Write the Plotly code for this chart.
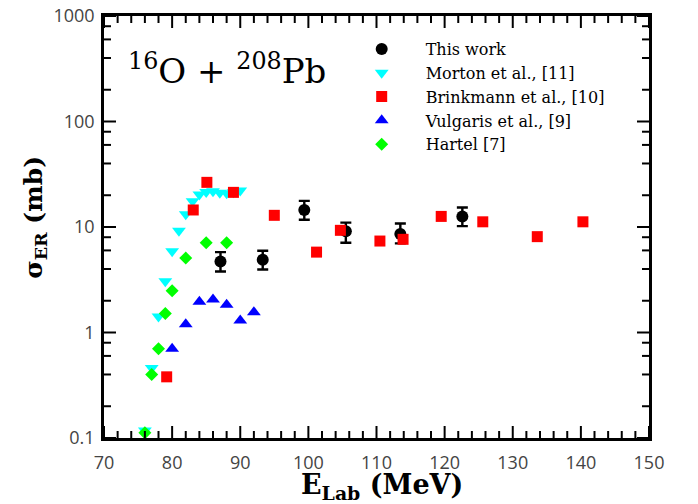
import plotly.graph_objects as go

# ---- data ----
this_x = [87.1, 93.3, 99.4, 105.5, 113.5, 122.6]
this_y = [4.7, 4.9, 14.5, 9.1, 8.6, 12.6]
this_err_plus = [1.08, 1.05, 3.2, 1.9, 2.2, 2.7]
this_err_minus = [0.91, 0.94, 2.8, 2.0, 1.6, 2.4]

morton_x = [76, 77, 78, 79, 80, 81, 82, 83, 84, 85, 86, 87, 88, 89, 90]
morton_y = [0.118, 0.46, 1.42, 3.06, 5.9, 9.2, 13.2, 17.5, 20.3, 21.5, 21.8, 21.1, 20.9, 21.3, 22.2]

brink_x = [79.2, 83.1, 85.1, 89.0, 95.0, 101.2, 104.7, 110.5, 113.9, 119.5, 125.6, 133.6, 140.3]
brink_y = [0.38, 14.5, 26.5, 21.3, 12.9, 5.78, 9.3, 7.36, 7.64, 12.6, 11.2, 8.1, 11.2]

vulg_x = [80, 82, 84, 86, 88, 90, 92]
vulg_y = [0.70, 1.20, 1.96, 2.05, 1.83, 1.30, 1.56]

hartel_x = [76, 77, 78, 79, 80, 82, 85, 88]
hartel_y = [0.112, 0.40, 0.70, 1.51, 2.49, 5.07, 7.1, 7.1]

x_range = [70, 150]
x_major = [70, 80, 90, 100, 110, 120, 130, 140, 150]
x_minor = [v for v in range(72, 150, 2) if v % 10 != 0]
y_major = [0.1, 1, 10, 100, 1000]
y_major_text = ["0.1", "1", "10", "100", "1000"]
y_minor = [m * d for d in [0.1, 1, 10, 100] for m in [2, 4, 6, 8]]

fig = go.Figure()

fig.add_trace(go.Scatter(
    x=this_x, y=this_y, mode="markers", name="This work",
    marker=dict(symbol="circle", size=12, color="black"),
    error_y=dict(type="data", array=this_err_plus, arrayminus=this_err_minus,
                 color="black", thickness=2.4, width=5.5),
))
fig.add_trace(go.Scatter(
    x=morton_x, y=morton_y, mode="markers", name="Morton et al., [11]",
    marker=dict(symbol="triangle-down", size=12, color="#00FFFF"),
))
fig.add_trace(go.Scatter(
    x=brink_x, y=brink_y, mode="markers", name="Brinkmann et al., [10]",
    marker=dict(symbol="square", size=11, color="#FF0000"),
))
fig.add_trace(go.Scatter(
    x=vulg_x, y=vulg_y, mode="markers", name="Vulgaris et al., [9]",
    marker=dict(symbol="triangle-up", size=12, color="#0000FF"),
))
fig.add_trace(go.Scatter(
    x=hartel_x, y=hartel_y, mode="markers", name="Hartel [7]",
    marker=dict(symbol="diamond", size=10, color="#00FF00"),
))

axis_common = dict(
    showline=True, linecolor="black", linewidth=2.5, mirror=True,
    ticks="", showgrid=False, zeroline=False, automargin=False,
)
tickfont = dict(family="Open Sans", size=18, color="#444")

fig.update_layout(
    xaxis=dict(range=x_range, tickmode="array", tickvals=x_major,
               tickfont=tickfont, ticklabelstandoff=7, **axis_common),
    yaxis=dict(type="log", range=[-1, 3], tickmode="array", tickvals=y_major,
               ticktext=y_major_text, tickfont=tickfont, ticklabelstandoff=3,
               **axis_common),
)

# inside tick marks on all four sides, placed through the axes' own scales
tick_line = dict(color="black", width=2)
for vals, ln in [(x_major, 12), (x_minor, 7)]:
    for v in vals:
        fig.add_shape(type="line", xref="x", yref="paper", ysizemode="pixel",
                      yanchor=0, x0=v, x1=v, y0=0, y1=ln, line=tick_line)
        fig.add_shape(type="line", xref="x", yref="paper", ysizemode="pixel",
                      yanchor=1, x0=v, x1=v, y0=0, y1=-ln, line=tick_line)
for vals, ln in [(y_major, 12), (y_minor, 7)]:
    for v in vals:
        fig.add_shape(type="line", xref="paper", yref="y", xsizemode="pixel",
                      xanchor=0, x0=0, x1=ln, y0=v, y1=v, line=tick_line)
        fig.add_shape(type="line", xref="paper", yref="y", xsizemode="pixel",
                      xanchor=1, x0=0, x1=-ln, y0=v, y1=v, line=tick_line)

fig.add_annotation(
    text="<sup>16</sup>O + <sup>208</sup>Pb", xref="paper", yref="paper",
    x=0.226, y=0.875, showarrow=False, xanchor="center", yanchor="middle",
    font=dict(family="DejaVu Serif", size=34, color="black"),
)
fig.add_annotation(
    text="<b>E<sub>Lab</sub> (MeV)</b>", xref="paper", yref="paper",
    x=0.51, y=-0.115, showarrow=False, xanchor="center", yanchor="middle",
    font=dict(family="DejaVu Serif", size=27, color="black"),
)
fig.add_annotation(
    text="<b>σ<sub>ER</sub> (mb)</b>", xref="paper", yref="paper",
    x=-0.127, y=0.524, showarrow=False, xanchor="center", yanchor="middle",
    textangle=-90,
    font=dict(family="DejaVu Serif", size=25, color="black"),
)

fig.update_layout(
    width=698, height=504,
    margin=dict(l=104, r=49, t=16, b=66),
    paper_bgcolor="white", plot_bgcolor="white",
    legend=dict(x=0.4288, y=0.962, xanchor="left", yanchor="top",
                bgcolor="rgba(0,0,0,0)", itemwidth=78,
                font=dict(family="DejaVu Serif", size=16, color="black"),
                tracegroupgap=0),
    showlegend=True,
)

fig.write_html("out.html")
